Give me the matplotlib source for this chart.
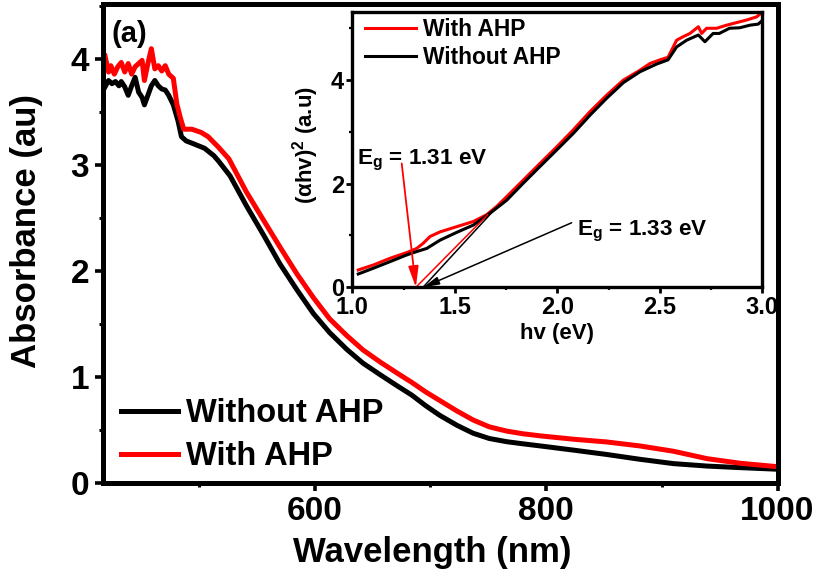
import matplotlib
matplotlib.use("Agg")
import matplotlib.pyplot as plt
from matplotlib.ticker import MultipleLocator, FormatStrFormatter

plt.rcParams['font.family'] = ['Liberation Sans', 'DejaVu Sans']
plt.rcParams['font.weight'] = 'bold'
plt.rcParams['axes.labelweight'] = 'bold'
plt.rcParams['mathtext.fontset'] = 'custom'
plt.rcParams['mathtext.rm'] = 'Liberation Sans:bold'
plt.rcParams['mathtext.bf'] = 'Liberation Sans:bold'
plt.rcParams['mathtext.it'] = 'Liberation Sans:bold'

# ---------------- main data: absorbance vs wavelength ----------------
wl_without = [419, 422, 425, 428, 431, 433, 436, 439, 442, 445, 448, 451, 453, 456,
              459, 462, 465, 468, 471, 474, 478, 482, 485, 489, 496, 505, 513, 517,
              527, 541, 556, 570, 585, 599, 613, 628, 642, 657, 671, 684, 696, 708,
              723, 737, 751, 766, 780, 795, 824, 852, 881, 910, 939, 968, 1000]
abs_without = [3.74, 3.80, 3.77, 3.79, 3.75, 3.79, 3.74, 3.66, 3.75, 3.83, 3.69, 3.64,
               3.57, 3.66, 3.75, 3.80, 3.75, 3.72, 3.71, 3.66, 3.57, 3.42, 3.27, 3.23,
               3.20, 3.16, 3.09, 3.04, 2.90, 2.62, 2.34, 2.07, 1.82, 1.60, 1.42, 1.26,
               1.13, 1.02, 0.92, 0.83, 0.73, 0.64, 0.545, 0.47, 0.42, 0.39, 0.37, 0.35,
               0.31, 0.27, 0.224, 0.183, 0.16, 0.145, 0.13]

wl_with = [419, 422, 424, 427, 430, 433, 436, 439, 442, 445, 448, 451, 453, 456, 459,
           462, 465, 468, 471, 474, 478, 481, 484, 487, 494, 502, 508, 517, 526, 541,
           556, 570, 585, 599, 613, 628, 642, 657, 671, 684, 696, 708, 723, 737, 751,
           766, 780, 795, 824, 852, 881, 910, 939, 968, 1000]
abs_with = [4.03, 3.88, 3.94, 3.86, 3.93, 3.97, 3.88, 3.96, 3.86, 3.93, 3.96, 3.99,
            3.80, 3.96, 4.10, 3.91, 3.94, 3.89, 3.94, 3.86, 3.82, 3.58, 3.45, 3.34,
            3.34, 3.31, 3.27, 3.17, 3.06, 2.75, 2.48, 2.23, 1.97, 1.75, 1.55, 1.39,
            1.255, 1.14, 1.04, 0.95, 0.86, 0.78, 0.68, 0.595, 0.53, 0.49, 0.465, 0.445,
            0.413, 0.388, 0.35, 0.30, 0.23, 0.186, 0.154]

# ---------------- inset data: Tauc plot ----------------
hv_with = [1.029, 1.102, 1.184, 1.265, 1.314, 1.346, 1.379, 1.428, 1.509, 1.59, 1.655,
           1.704, 1.753, 1.834, 1.915, 1.997, 2.078, 2.159, 2.241, 2.322, 2.403, 2.452,
           2.50, 2.54, 2.582, 2.615, 2.647, 2.688, 2.704, 2.728, 2.777, 2.826, 2.875,
           2.924, 2.972, 2.997]
tauc_with = [0.334, 0.43, 0.56, 0.67, 0.75, 0.85, 0.98, 1.07, 1.17, 1.27, 1.40, 1.56,
             1.75, 2.07, 2.39, 2.71, 3.04, 3.39, 3.71, 4.00, 4.19, 4.32, 4.39, 4.44,
             4.77, 4.84, 4.90, 5.03, 4.90, 5.00, 5.00, 5.06, 5.11, 5.16, 5.22, 5.30]

hv_without = [1.029, 1.102, 1.184, 1.265, 1.314, 1.363, 1.428, 1.509, 1.59, 1.672, 1.753,
              1.834, 1.915, 1.997, 2.078, 2.159, 2.241, 2.322, 2.403, 2.485, 2.54, 2.582,
              2.631, 2.688, 2.72, 2.76, 2.79, 2.84, 2.89, 2.94, 2.98, 2.997]
tauc_without = [0.257, 0.367, 0.495, 0.624, 0.69, 0.75, 0.91, 1.06, 1.20, 1.43, 1.68,
                2.01, 2.33, 2.65, 2.97, 3.32, 3.65, 3.95, 4.16, 4.31, 4.39, 4.64, 4.77,
                4.87, 4.74, 4.90, 4.90, 5.00, 5.01, 5.06, 5.08, 5.14]

# linear-fit (tangent) segments
fit_with_hv = [1.31, 1.66]
fit_with_y = [0.0, 1.40]
fit_without_hv = [1.345, 1.675]
fit_without_y = [0.0, 1.42]

eg_with = 1.31
eg_without = 1.33

main_xticks = [600, 800, 1000]
main_yticks = [0, 1, 2, 3, 4]
inset_xticks = [1.0, 1.5, 2.0, 2.5, 3.0]
inset_yticks = [0, 2, 4]

# ---------------- figure ----------------
fig = plt.figure(figsize=(8.22, 5.79), dpi=100)
ax = fig.add_axes([0.1247, 0.1658, 0.8212, 0.8269])

ax.plot(wl_without, abs_without, color='black', lw=3.6, label='Without AHP')
ax.plot(wl_with, abs_with, color='#ff0000', lw=3.6, label='With AHP')

ax.set_xlim(416.8, 1000)
ax.set_ylim(0, 4.52)
ax.set_xticks(main_xticks)
ax.set_yticks(main_yticks)
ax.xaxis.set_minor_locator(MultipleLocator(100))
ax.yaxis.set_minor_locator(MultipleLocator(0.5))
for s in ax.spines.values():
    s.set_linewidth(3.6)
ax.tick_params(which='major', direction='out', length=5.5, width=2.6, labelsize=24, pad=4)
ax.tick_params(which='minor', direction='out', length=3, width=2.2)
ax.tick_params(top=False, right=False, which='both')

ax.set_xlabel('Wavelength (nm)', fontsize=25, va='center')
ax.xaxis.set_label_coords(0.489, -0.146)
ax.set_ylabel('Absorbance (au)', fontsize=25, va='center')
ax.yaxis.set_label_coords(-0.112, 0.527)

ax.text(0.0134, 0.967, '(a)', transform=ax.transAxes, fontsize=21, ha='left', va='top')

ax.legend(loc='upper left', bbox_to_anchor=(0.027, 0.1775), frameon=False,
          fontsize=23.5, handlelength=1.75, handletextpad=0.25, labelspacing=0.37,
          borderpad=0, borderaxespad=0)

# ---------------- inset ----------------
ins = fig.add_axes([0.4286, 0.5038, 0.4988, 0.476])
ins.plot(hv_with, tauc_with, color='#ff0000', lw=2.2, label='With AHP')
ins.plot(hv_without, tauc_without, color='black', lw=2.2, label='Without AHP')
ins.plot(fit_with_hv, fit_with_y, color='#ff0000', lw=1.1)
ins.plot(fit_without_hv, fit_without_y, color='black', lw=1.1)

ins.set_xlim(1.0, 3.0)
ins.set_ylim(0, 5.32)
ins.set_xticks(inset_xticks)
ins.set_yticks(inset_yticks)
ins.xaxis.set_major_formatter(FormatStrFormatter('%.1f'))
ins.xaxis.set_minor_locator(MultipleLocator(0.25))
ins.yaxis.set_minor_locator(MultipleLocator(1))
for s in ins.spines.values():
    s.set_linewidth(2.4)
ins.tick_params(which='major', direction='out', length=4.5, width=2.0, labelsize=17, pad=1.5)
ins.tick_params(which='minor', direction='out', length=2.5, width=1.6)
ins.tick_params(top=False, right=False, which='both')

ins.set_xlabel('hv (eV)', fontsize=16, va='center')
ins.xaxis.set_label_coords(0.5, -0.169)
ins.set_ylabel('(\u03b1hv)$^{\\mathbf{2}}$ (a.u)', fontsize=16, va='center')
ins.yaxis.set_label_coords(-0.115, 0.516)

ins.legend(loc='upper left', bbox_to_anchor=(0.032, 0.977), frameon=False, fontsize=16.4,
           handlelength=2.2, handletextpad=0.34, labelspacing=0.23,
           borderpad=0, borderaxespad=0)

ins.annotate('', xy=(eg_with, 0.0), xytext=(1.241, 2.39),
             arrowprops=dict(arrowstyle='-|>,head_length=0.9,head_width=0.22',
                             color='#ff0000', lw=1.3, mutation_scale=14,
                             shrinkA=0, shrinkB=0))
ins.text(1.023, 2.38, 'E$_{\\mathbf{g}}$ = %.2f eV' % eg_with, fontsize=16.2,
         ha='left', va='baseline')

ins.annotate('', xy=(1.346, 0.0), xytext=(2.07, 1.246),
             arrowprops=dict(arrowstyle='-|>,head_length=0.8,head_width=0.2',
                             color='black', lw=1.1, mutation_scale=12,
                             shrinkA=0, shrinkB=0))
ins.text(2.098, 1.01, 'E$_{\\mathbf{g}}$ = %.2f eV' % eg_without, fontsize=16.2,
         ha='left', va='baseline')

fig.savefig('out.png', dpi=100)
